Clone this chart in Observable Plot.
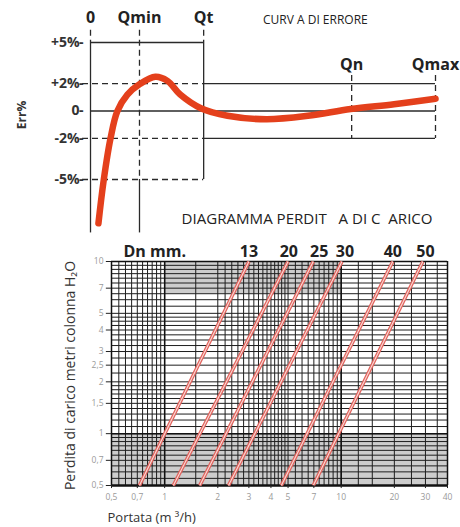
<!DOCTYPE html>
<html><head><meta charset="utf-8">
<script src="https://cdn.jsdelivr.net/npm/d3@7"></script>
<script src="https://cdn.jsdelivr.net/npm/@observablehq/plot@0.6"></script>
<style>
html,body{margin:0;padding:0;background:#fff;}
#chart{width:460px;height:527px;position:relative;overflow:hidden;background:#fff;}
#chart svg{display:block;}
#errlab{position:absolute;left:22px;top:115px;transform:translate(-50%,-50%) rotate(-90deg);
  font:bold 12px 'Open Sans','Liberation Sans',Arial,sans-serif;color:#333;white-space:nowrap;line-height:1;}
</style></head><body><div id="chart"><div id="errlab">Err%</div></div>
<script>
// ---------- top panel: error curve ----------
const errLevels = [5, 2, 0, -2, -5];
const errLabels = ["+5%", "+2%", "0", "-2%", "-5%"];
const flowNames = ["0", "Qmin", "Qt", "Qn", "Qmax"];
const flowValues = [0, 14.2, 32.8, 75.7, 100];
const curveQ =   [2.3, 3.8, 5.8, 7.8, 10.7, 14.2, 18.8, 22.3, 26, 32, 39.7, 51, 63, 75.4, 88, 100];
const curveErr = [-8.2, -5.1, -2.0, 0, 1.2, 1.95, 2.5, 2.2, 1.2, 0.2, -0.35, -0.6, -0.35, 0.15, 0.5, 0.9];

// ---------- bottom panel: head loss diagram ----------
const dnSizes = [13, 20, 25, 30, 40, 50];
const qAtLow  = [0.72, 1.12, 1.58, 2.3, 4.58, 6.95];   // flow at 0.5 m
const qAtHigh = [3.0, 5.0, 6.95, 10.1, 19.6, 29];      // flow at 10 m
const labelQ  = [3.0, 5.05, 7.5, 10.5, 19.6, 30];
const hLow = 0.5, hHigh = 10;
const qMinAxis = 0.5, qMaxAxis = 40;
const xTicks = [0.5, 0.7, 1, 2, 3, 4, 5, 7, 10, 20, 30, 40];
const yTicks = [0.5, 0.7, 1, 1.5, 2, 2.5, 3, 4, 5, 7, 10];

const FONT = "'Open Sans', 'Liberation Sans', Arial, sans-serif";
const fmtIt = d => String(d).replace(".", ",");

const [q0, qMin, qT, qN, qMax] = flowValues;
const yTopEnd = 5.9, yBotEnd = -8.9, yQn = 2.6, xLeft = -2.32;

const curve = curveQ.map((q, i) => ({q, e: curveErr[i]}));
const hSolid = [
  {x1: q0, x2: qT, y: errLevels[0]},
  {x1: qT, x2: qMax, y: errLevels[1]},
  {x1: q0, x2: qMax, y: errLevels[2]},
  {x1: qT, x2: qMax, y: errLevels[3]}
];
const hDashed = [
  {x1: xLeft, x2: qT, y: errLevels[1]},
  {x1: xLeft, x2: qT, y: errLevels[3]},
  {x1: xLeft, x2: qT, y: errLevels[4]}
];
const vSolid = [
  {x: q0, y1: errLevels[0], y2: yBotEnd},
  {x: qMin, y1: errLevels[4], y2: yBotEnd},
  {x: qT, y1: errLevels[0], y2: errLevels[4]}
];
const vDashed = [
  {x: q0, y1: yTopEnd, y2: errLevels[0]},
  {x: qMin, y1: yTopEnd, y2: errLevels[4]},
  {x: qT, y1: yTopEnd, y2: errLevels[0]},
  {x: qN, y1: yQn, y2: errLevels[3]},
  {x: qMax, y1: yQn, y2: errLevels[3]}
];
const topNames = flowNames.slice(0, 3).map((n, i) => ({n, q: flowValues[i]}));
const midNames = flowNames.slice(3).map((n, i) => ({n, q: flowValues[i + 3]}));

const LINE = "#2a2a2a";
const topSvg = Plot.plot({
  width: 460, height: 232,
  marginLeft: 82, marginRight: 25, marginTop: 0, marginBottom: 0,
  x: {domain: [xLeft, 100], axis: null},
  y: {domain: [-5, 5], range: [179, 42], axis: null},
  style: {fontFamily: FONT, background: "transparent", overflow: "visible"},
  marks: [
    Plot.ruleY(hSolid, {y: "y", x1: "x1", x2: "x2", stroke: LINE, strokeWidth: 1.3}),
    Plot.ruleY(hDashed, {y: "y", x1: "x1", x2: "x2", stroke: LINE, strokeWidth: 1.3, strokeDasharray: "6,4"}),
    Plot.ruleX(vSolid, {x: "x", y1: "y1", y2: "y2", stroke: LINE, strokeWidth: 1.3}),
    Plot.ruleX(vDashed, {x: "x", y1: "y1", y2: "y2", stroke: LINE, strokeWidth: 1.3, strokeDasharray: "6,4"}),
    Plot.text(errLevels, {x: xLeft, y: d => d, text: (d, i) => errLabels[i], dx: -3, textAnchor: "end",
      fontSize: 14, fontWeight: "bold", fill: "#333"}),
    Plot.text(errLevels, {x: xLeft, y: d => d, text: () => "-", dx: 1, textAnchor: "end",
      fontSize: 14, fontWeight: "bold", fill: "#333"}),
    Plot.line(curve, {x: "q", y: "e", stroke: "#e4401c", strokeWidth: 6.5, curve: "catmull-rom", strokeLinecap: "round"}),
    Plot.text(topNames, {x: "q", y: yTopEnd, text: "n", dy: -12, fontSize: 16, fontWeight: "bold", fill: "#222"}),
    Plot.text(midNames, {x: "q", y: yQn, text: "n", dy: -11, fontSize: 16, fontWeight: "bold", fill: "#222"}),
    Plot.text(["CURV A DI ERRORE"], {x: 50, y: yTopEnd, dy: -10, textAnchor: "start", fontSize: 12, fill: "#222"}),
    Plot.text(["DIAGRAMMA PERDIT   A DI C  ARICO"], {x: 26.4, y: -7.9, textAnchor: "start", fontSize: 14, fill: "#222",
      className: "diag"})
  ]
});

// grid lines for the log-log paper
const gridQ = [
  ...d3.range(0.5, 1.0001, 0.05), 1.5,
  ...d3.range(2, 5, 0.2), ...d3.range(5, 10.001, 0.5),
  12.5, 15, 20, 25, 30, 35, 40
];
const gridH = [
  ...d3.range(0.5, 1.0001, 0.05), ...d3.range(1.1, 2, 0.1),
  ...d3.range(2, 5, 0.25), ...d3.range(5, 10.001, 0.5)
];
const bands = [
  {x1: qMinAxis, x2: qMaxAxis, y1: hLow, y2: 1},
  {x1: 1, x2: 10, y1: 6.5, y2: hHigh}
];
const pipes = dnSizes.map((dn, i) => ({dn: String(dn), lo: qAtLow[i], hi: qAtHigh[i], lq: labelQ[i]}));

const bottomSvg = Plot.plot({
  width: 460, height: 295,
  marginLeft: 111, marginRight: 13, marginTop: 29, marginBottom: 42,
  x: {type: "log", domain: [qMinAxis, qMaxAxis], axis: null},
  y: {type: "log", domain: [hLow, hHigh], axis: null},
  style: {fontFamily: FONT, background: "transparent", overflow: "visible"},
  marks: [
    Plot.rect(bands, {x1: "x1", x2: "x2", y1: "y1", y2: "y2", fill: "#cdcdcd"}),
    Plot.ruleX(gridQ, {y1: hLow, y2: hHigh, stroke: "#1e1e1e", strokeWidth: 1}),
    Plot.ruleY(gridH, {x1: qMinAxis, x2: qMaxAxis, stroke: "#1e1e1e", strokeWidth: 1}),
    Plot.ruleY([hLow], {x1: qMinAxis, x2: qMaxAxis, stroke: "#111", strokeWidth: 2.5}),
    Plot.ruleX([qMinAxis, 1, 10, qMaxAxis], {y1: hLow, y2: hHigh, stroke: "#111", strokeWidth: 1.5}),
    Plot.ruleY([1, hHigh], {x1: qMinAxis, x2: qMaxAxis, stroke: "#111", strokeWidth: 1.5}),
    Plot.link(pipes, {x1: "lo", y1: () => hLow, x2: "hi", y2: () => hHigh, stroke: "#e2625c", strokeWidth: 3.6}),
    Plot.link(pipes, {x1: "lo", y1: () => hLow, x2: "hi", y2: () => hHigh, stroke: "#f8dcd8", strokeWidth: 1.1}),
    Plot.text(pipes, {x: "lq", y: () => hHigh, text: "dn", dy: -10, fontSize: 16, fontWeight: "bold", fill: "#222"}),
    Plot.text(["Dn mm."], {frameAnchor: "top-left", lineAnchor: "middle", dx: 12, dy: -10, textAnchor: "start",
      fontSize: 16, fontWeight: "bold", fill: "#222"}),
    // axis ticks and labels
    Plot.ruleX(xTicks, {x: d => d, y1: hLow, y2: hLow * 0.96, stroke: "#222"}),
    Plot.text(xTicks, {x: d => d, y: () => hLow, text: d => fmtIt(d), dy: 12, fontSize: 8.5, fill: "#9a9a9a"}),
    Plot.ruleY(yTicks, {y: d => d, x1: qMinAxis * 0.935, x2: qMinAxis, stroke: "#222"}),
    Plot.text(yTicks, {x: () => qMinAxis, y: d => d, text: d => fmtIt(d), dx: -8, textAnchor: "end", fontSize: 8.5, fill: "#9a9a9a"}),
    Plot.text(["Perdita di carico metri colonna H₂O"], {frameAnchor: "left", textAnchor: "middle", dx: -41, dy: 2,
      rotate: -90, fontSize: 14, fill: "#333"}),
    Plot.text(["Portata (m ³/h)"], {frameAnchor: "bottom-left", lineAnchor: "middle", dx: -4, dy: 32, textAnchor: "start",
      fontSize: 13, fill: "#333"})
  ]
});

const root = document.getElementById("chart");
root.appendChild(topSvg);
root.appendChild(bottomSvg);
const diag = topSvg.querySelector(".diag text");
if (diag) { diag.setAttribute("textLength", "251"); diag.setAttribute("lengthAdjust", "spacingAndGlyphs"); }
</script>
</body></html>
